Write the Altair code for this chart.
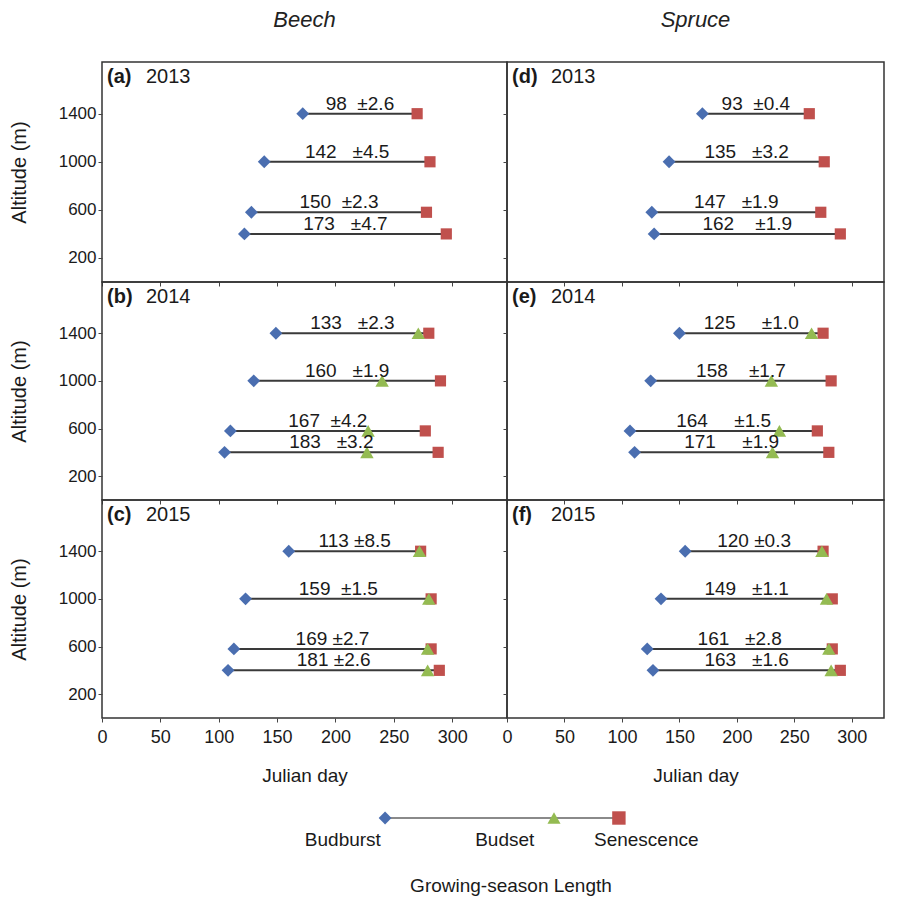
import altair as alt
import pandas as pd

FONT = "Liberation Sans"
BLUE = "#4A6EB0"
RED = "#C0504D"
GREEN = "#94BB52"

altitudes = [1400, 1000, 580, 400]

S = "\u00a0"  # non-breaking space, keeps the gaps of the original labels

beech_2013_budburst = [172, 139, 128, 122]
beech_2013_senescence = [270, 281, 278, 295]
beech_2013_labels = ["98" + S * 2 + "±2.6", "142" + S * 3 + "±4.5",
                     "150" + S * 2 + "±2.3", "173" + S * 3 + "±4.7"]

beech_2014_budburst = [149, 130, 110, 105]
beech_2014_budset = [271, 240, 228, 227]
beech_2014_senescence = [280, 290, 277, 288]
beech_2014_labels = ["133" + S * 3 + "±2.3", "160" + S * 3 + "±1.9",
                     "167" + S * 2 + "±4.2", "183" + S * 3 + "±3.2"]

beech_2015_budburst = [160, 123, 113, 108]
beech_2015_budset = [272, 280, 279, 279]
beech_2015_senescence = [273, 282, 282, 289]
beech_2015_labels = ["113" + S + "±8.5", "159" + S * 2 + "±1.5",
                     "169" + S + "±2.7", "181" + S + "±2.6"]

spruce_2013_budburst = [170, 141, 126, 128]
spruce_2013_senescence = [263, 276, 273, 290]
spruce_2013_labels = ["93" + S * 2 + "±0.4", "135" + S * 3 + "±3.2",
                      "147" + S * 3 + "±1.9", "162" + S * 4 + "±1.9"]

spruce_2014_budburst = [150, 125, 107, 111]
spruce_2014_budset = [265, 230, 237, 231]
spruce_2014_senescence = [275, 282, 270, 280]
spruce_2014_labels = ["125" + S * 5 + "±1.0", "158" + S * 4 + "±1.7",
                      "164" + S * 5 + "±1.5", "171" + S * 5 + "±1.9"]

spruce_2015_budburst = [155, 134, 122, 127]
spruce_2015_budset = [274, 278, 280, 282]
spruce_2015_senescence = [275, 283, 283, 290]
spruce_2015_labels = ["120" + S + "±0.3", "149" + S * 3 + "±1.1",
                      "161" + S * 3 + "±2.8", "163" + S * 3 + "±1.6"]

x_ticks = [0, 50, 100, 150, 200, 250, 300]
y_ticks = [200, 400, 600, 800, 1000, 1200, 1400, 1600]

legend_names = ["Budburst", "Budset", "Senescence"]
legend_marker_pos = [36.2, 57.8, 66.1]
legend_label_pos = [30.8, 51.5, 69.6]
legend_title = "Growing-season Length"
legend_title_pos = [52.3]


def make_panel(letter, year, budburst, senescence, labels, budset=None,
               left=True, bottom=False, title=None, width=400, height=218,
               xdomain=(0, 342)):
    df = pd.DataFrame({
        "altitude": altitudes,
        "budburst": budburst,
        "senescence": senescence,
        "label": labels,
    })
    xs = alt.Scale(domain=list(xdomain), nice=False, zero=False)
    ys = alt.Scale(domain=[0, 1830], nice=False)
    xaxis = alt.Axis(values=x_ticks, labels=bottom, title="Julian day" if bottom else None,
                     grid=False, domain=False, tickSize=4, labelFontSize=18,
                     labelPadding=6, titleFontSize=19, titleFontWeight="normal",
                     titlePadding=20, labelFlush=False, format="d")
    yaxis = alt.Axis(values=y_ticks, labels=left, title="Altitude (m)" if left else None,
                     grid=False, domain=False, tickSize=4, labelFontSize=17,
                     labelPadding=2, titleFontSize=20, titleFontWeight="normal",
                     titlePadding=29, format="d",
                     labelExpr="datum.value % 400 == 200 ? datum.label : ''")
    base = alt.Chart(df)
    rule = base.mark_rule(color="#3a3a3a", strokeWidth=2).encode(
        x=alt.X("budburst:Q", scale=xs, axis=xaxis),
        x2="senescence:Q",
        y=alt.Y("altitude:Q", scale=ys, axis=yaxis),
    )
    diam = base.mark_point(shape="diamond", filled=True, size=165, color=BLUE,
                           opacity=1, strokeWidth=0).encode(
        x=alt.X("budburst:Q", scale=xs), y=alt.Y("altitude:Q", scale=ys))
    sq = base.mark_point(shape="square", filled=True, size=125, color=RED,
                         opacity=1, strokeWidth=0).encode(
        x=alt.X("senescence:Q", scale=xs), y=alt.Y("altitude:Q", scale=ys))
    txt = base.transform_calculate(mid="(datum.budburst + datum.senescence) / 2").mark_text(
        font=FONT, fontSize=19, baseline="alphabetic", dy=-4, color="#1a1a1a").encode(
        x=alt.X("mid:Q", scale=xs), y=alt.Y("altitude:Q", scale=ys), text="label:N")
    layers = [rule, diam, sq]
    if budset is not None:
        bdf = pd.DataFrame({"altitude": altitudes, "budset": budset})
        tri = alt.Chart(bdf).mark_point(shape="triangle-up", filled=True, size=180,
                                        color=GREEN, opacity=1, strokeWidth=0).encode(
            x=alt.X("budset:Q", scale=xs), y=alt.Y("altitude:Q", scale=ys))
        layers.append(tri)
    layers.append(txt)
    pl = pd.DataFrame({"letter": [letter], "year": [str(year)]})
    lab1 = alt.Chart(pl).mark_text(font=FONT, fontSize=20, fontWeight="bold", align="left",
                                   baseline="middle", color="#1a1a1a").encode(
        x=alt.value(5), y=alt.value(15), text="letter:N")
    lab2 = alt.Chart(pl).mark_text(font=FONT, fontSize=20, align="left",
                                   baseline="middle", color="#1a1a1a").encode(
        x=alt.value(44), y=alt.value(15), text="year:N")
    layers += [lab1, lab2]
    ch = alt.layer(*layers).properties(width=width, height=height)
    if title:
        ch = ch.properties(title=alt.TitleParams(title, fontStyle="italic", fontSize=22,
                                                 fontWeight="normal", font=FONT,
                                                 offset=30, color="#222"))
    return ch


LW, RW = 405, 377
LD, RD = (0, 347), (0, 328)

a = make_panel("(a)", 2013, beech_2013_budburst, beech_2013_senescence, beech_2013_labels,
               left=True, title="Beech", width=LW, height=220, xdomain=LD)
d = make_panel("(d)", 2013, spruce_2013_budburst, spruce_2013_senescence, spruce_2013_labels,
               left=False, title="Spruce", width=RW, height=220, xdomain=RD)
b = make_panel("(b)", 2014, beech_2014_budburst, beech_2014_senescence, beech_2014_labels,
               budset=beech_2014_budset, left=True, width=LW, xdomain=LD)
e = make_panel("(e)", 2014, spruce_2014_budburst, spruce_2014_senescence, spruce_2014_labels,
               budset=spruce_2014_budset, left=False, width=RW, xdomain=RD)
c = make_panel("(c)", 2015, beech_2015_budburst, beech_2015_senescence, beech_2015_labels,
               budset=beech_2015_budset, left=True, bottom=True, width=LW, xdomain=LD)
f = make_panel("(f)", 2015, spruce_2015_budburst, spruce_2015_senescence, spruce_2015_labels,
               budset=spruce_2015_budset, left=False, bottom=True, width=RW, xdomain=RD)

grid = alt.concat(a, d, b, e, c, f, columns=2, spacing=0, bounds="flush")

# custom legend
lx = alt.Scale(domain=[0, 100], nice=False)
line_df = pd.DataFrame({"start": [min(legend_marker_pos)], "end": [max(legend_marker_pos)]})
mk_df = pd.DataFrame({"name": legend_names, "pos": legend_marker_pos})
lb_df = pd.DataFrame({"name": legend_names, "pos": legend_label_pos})
tt_df = pd.DataFrame({"name": [legend_title], "pos": legend_title_pos})

lline = alt.Chart(line_df).mark_rule(color="#8a8a8a", strokeWidth=2).encode(
    x=alt.X("start:Q", scale=lx, axis=None), x2="end:Q", y=alt.value(14))
lmk = alt.Chart(mk_df).mark_point(filled=True, opacity=1, strokeWidth=0).encode(
    x=alt.X("pos:Q", scale=lx, axis=None), y=alt.value(14),
    shape=alt.Shape("name:N", scale=alt.Scale(domain=legend_names,
                                              range=["diamond", "triangle-up", "square"]),
                    legend=None),
    color=alt.Color("name:N", scale=alt.Scale(domain=legend_names, range=[BLUE, GREEN, RED]),
                    legend=None),
    size=alt.Size("name:N", scale=alt.Scale(domain=legend_names, range=[165, 180, 130]),
                  legend=None),
)
llb = alt.Chart(lb_df).mark_text(font=FONT, fontSize=19, baseline="middle",
                                 color="#1a1a1a").encode(
    x=alt.X("pos:Q", scale=lx, axis=None), y=alt.value(36), text="name:N")
ltt = alt.Chart(tt_df).mark_text(font=FONT, fontSize=19, baseline="middle",
                                 color="#1a1a1a").encode(
    x=alt.X("pos:Q", scale=lx, axis=None), y=alt.value(82), text="name:N")
legend = alt.layer(lline, lmk, llb, ltt).properties(
    width=LW + RW, height=88, view=alt.ViewBackground(strokeOpacity=0))

chart = alt.vconcat(grid, legend, spacing=18).properties(
    padding={"left": 0, "top": 0, "right": 0, "bottom": 0}
).configure_view(stroke="#333333", strokeWidth=1.5).configure_axis(
    labelFont=FONT, titleFont=FONT, labelColor="#1a1a1a", titleColor="#1a1a1a",
    tickColor="#444444", tickWidth=1
).configure_concat(spacing=0)

chart.save("out.html", embed_options={"renderer": "svg", "actions": False})
